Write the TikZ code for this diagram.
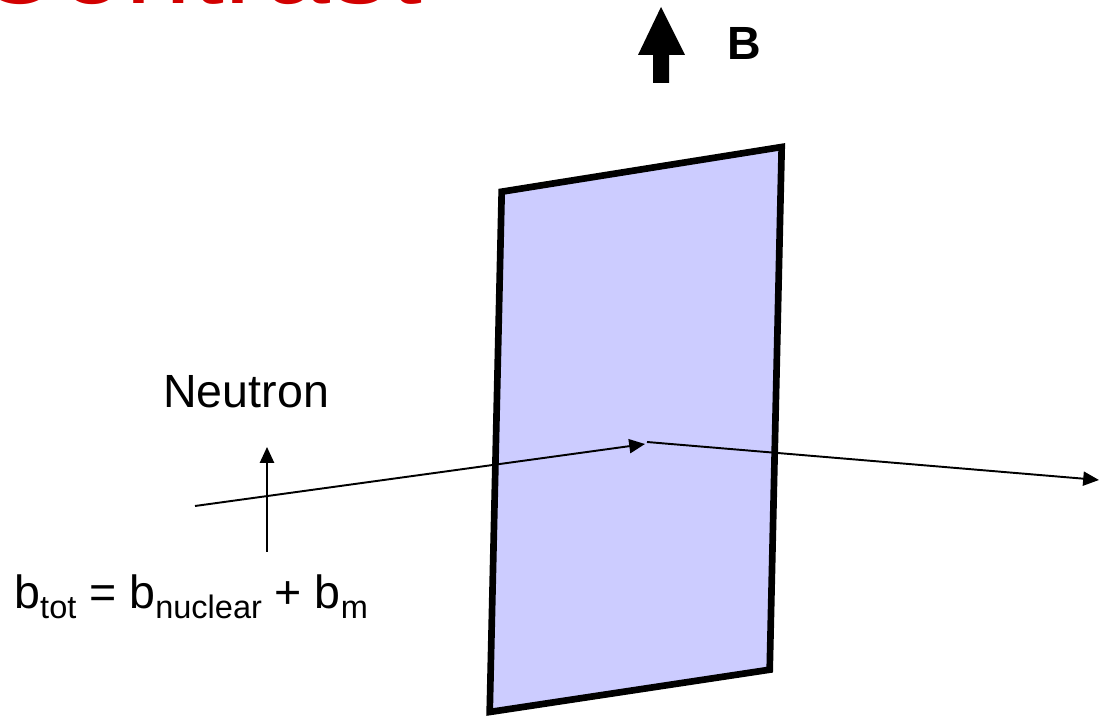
\documentclass[tikz,border=0pt]{standalone}
\usepackage{fontspec}
\setmainfont{Liberation Sans}
\usetikzlibrary{arrows.meta}
\definecolor{titlered}{RGB}{210,0,0}
\definecolor{foilblue}{RGB}{204,204,255}
\newcommand{\lowsub}[1]{\raisebox{-6.2pt}{\fontsize{18.5pt}{20pt}\selectfont #1}}

\begin{document}
\begin{tikzpicture}[>={Triangle[length=9pt,width=8pt]},x=0.02cm,y=-0.02cm]
  \tikzset{
    ray/.style={->,line width=1.1pt},
    foilface/.style={fill=foilblue,draw=black,line width=3.8pt,line join=miter},
    txt/.style={inner sep=0pt,anchor=base west,font=\fontsize{26.5pt}{30pt}\selectfont}
  }
  \clip (0,0) rectangle (1100,716);

  % title, cut by the top edge
  \node[inner sep=0pt,anchor=base west,text=titlered,
    font=\fontsize{67.5pt}{70pt}\selectfont] (title) at (-26,4) {Contrast};

  % field direction
  \fill (661,7) -- (685,55) -- (669,55) -- (669,83) -- (653,83)
    -- (653,55) -- (638,55) -- cycle;
  \node[txt,font=\fontsize{26.5pt}{30pt}\selectfont\bfseries] (field) at (727,60) {B};

  % sample foil
  \draw[foilface] (501.7,191.7) -- (781.7,147) -- (769.7,669.7) -- (489.7,712) -- cycle;

  % neutron path
  \coordinate (src) at (195,506);
  \coordinate (hit) at (645,444);
  \coordinate (scat) at (647,442);
  \coordinate (exit) at (1099,480);
  \draw[ray] (src) -- (hit);
  \draw[ray] (scat) -- (exit);

  % spin
  \coordinate (spin-tail) at (267,552);
  \coordinate (spin-tip) at (267,447);
  \draw[ray] (spin-tail) -- (spin-tip);

  \node[txt] (neutron) at (163,408) {Neutron};
  \node[txt] (length) at (14,608)
    {b\lowsub{tot} = b\lowsub{nuclear} + b\lowsub{m}};
\end{tikzpicture}
\end{document}
